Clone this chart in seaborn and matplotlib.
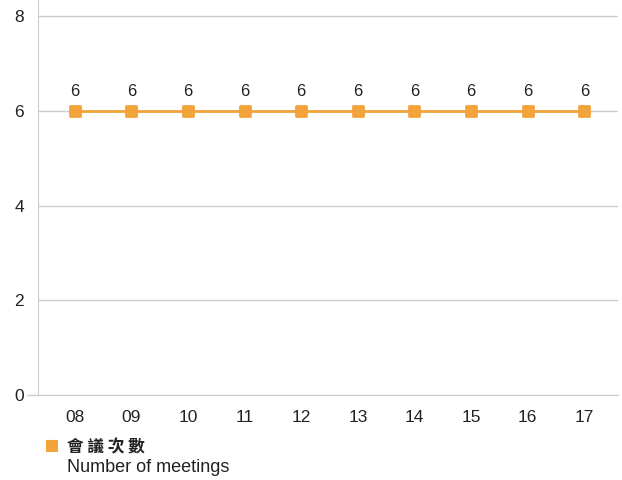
import pandas as pd
import seaborn as sns
import matplotlib.pyplot as plt
from matplotlib.lines import Line2D
from matplotlib.markers import MarkerStyle

years = ["08", "09", "10", "11", "12", "13", "14", "15", "16", "17"]
meetings = [6, 6, 6, 6, 6, 6, 6, 6, 6, 6]
label_zh = "會 議 次 數"
label_en = "Number of meetings"

ORANGE = "#F2A33A"
GRID = "#CCCCCC"
TXT = "#222222"

sns.set_style("white")
plt.rcParams["font.family"] = ["Liberation Sans", "Noto Sans CJK TC", "DejaVu Sans"]

df = pd.DataFrame({"year": years, "value": meetings})

fig = plt.figure(figsize=(6.22, 4.8), dpi=100)
ax = fig.add_axes([0.061, 0.177, 0.933, 0.823])

rounded_sq = MarkerStyle("s", joinstyle="round")
sns.lineplot(data=df, x="year", y="value", ax=ax, color=ORANGE, linewidth=2,
             marker=rounded_sq, markersize=7.5, markeredgewidth=2,
             markeredgecolor=ORANGE, sort=False)

for i, v in enumerate(meetings):
    ax.text(i, v + 0.4, str(v), ha="center", va="center", fontsize=12, color=TXT)

ax.set_xlim(-0.65, 9.6)
ax.set_ylim(0, 8.34)
ax.set_yticks([0, 2, 4, 6, 8])
ax.yaxis.grid(True, color=GRID, linewidth=1)
ax.set_axisbelow(True)
for s in ["top", "right"]:
    ax.spines[s].set_visible(False)
ax.spines["left"].set_color(GRID)
ax.spines["bottom"].set_color(GRID)
ax.tick_params(axis="both", length=0, labelsize=12.5, colors=TXT)
ax.tick_params(axis="x", pad=11)
ax.tick_params(axis="y", pad=10)
ax.set_xlabel("")
ax.set_ylabel("")
if ax.get_legend():
    ax.get_legend().remove()

# little tick stub to the left of zero baseline
ax.add_line(Line2D([-0.018, 0], [0, 0], transform=ax.get_yaxis_transform(),
                   color=GRID, linewidth=1, clip_on=False))

fig.legend(handles=[Line2D([], [], marker=rounded_sq, linestyle="none", color=ORANGE,
                           markersize=6.5, markeredgewidth=1.5)],
           labels=[""], loc="center", bbox_to_anchor=(0.083, 0.068),
           frameon=False, handletextpad=0, borderpad=0, handlelength=1)
fig.text(0.107, 0.069, label_zh, fontsize=12, va="center", ha="left", color=TXT,
         family=["Noto Sans CJK TC", "DejaVu Sans"], fontweight="bold")
fig.text(0.107, 0.027, label_en, fontsize=13, va="center", ha="left", color=TXT)

fig.savefig("out.png", dpi=100)
